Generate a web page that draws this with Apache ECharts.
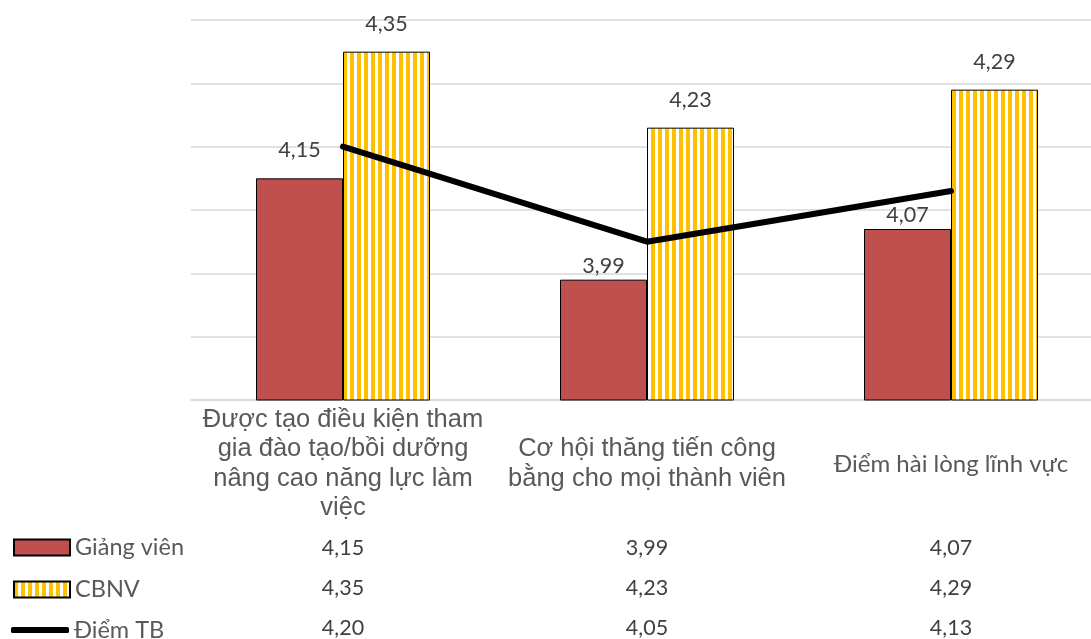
<!DOCTYPE html>
<html>
<head>
<meta charset="utf-8">
<script src="https://cdn.jsdelivr.net/npm/echarts@6/dist/echarts.min.js"></script>
<style>
html,body{margin:0;padding:0;background:#fff;}
#chart{width:1091px;height:639px;}
</style>
</head>
<body>
<div id="chart"></div>
<script>
// ---- data ----
const categories = [
  'Được tạo điều kiện tham\ngia đào tạo/bồi dưỡng\nnâng cao năng lực làm\nviệc',
  'Cơ hội thăng tiến công\nbằng cho mọi thành viên',
  'Điểm hài lòng lĩnh vực'
];
const seriesNames = ['Giảng viên', 'CBNV', 'Điểm TB'];
const giangVien = [4.15, 3.99, 4.07];
const cbnv = [4.35, 4.23, 4.29];
const diemTB = [4.20, 4.05, 4.13];
const yTicks = { min: 3.8, max: 4.4, interval: 0.1 };

// ---- helpers ----
const fmt = v => v.toFixed(2).replace('.', ',');

function stripePattern() {
  const c = document.createElement('canvas');
  c.width = 7; c.height = 10;
  const ctx = c.getContext('2d');
  ctx.fillStyle = '#ffffff';
  ctx.fillRect(0, 0, 7, 10);
  ctx.fillStyle = '#FFC000';
  ctx.fillRect(0, 0, 4, 10);
  return { image: c, repeat: 'repeat' };
}

const numFont = 'Lato, "Open Sans", sans-serif';
const catFont = '"Liberation Sans", Arial, sans-serif';

const tableAxis = (values, offset) => ({
  type: 'category',
  gridIndex: 0,
  position: 'bottom',
  offset: offset,
  data: values.map(fmt),
  axisLine: { show: false },
  axisTick: { show: false },
  splitLine: { show: false },
  axisLabel: {
    interval: 0, margin: 0, verticalAlign: 'middle',
    fontFamily: numFont, fontSize: 21.5, color: '#404040'
  }
});

const legendItem = (name, top, opts) => Object.assign({
  orient: 'horizontal',
  left: 13,
  top: top,
  padding: 0,
  itemWidth: 56,
  itemHeight: 16,
  icon: 'rect',
  data: [name],
  textStyle: { fontFamily: numFont, fontSize: 23.5, color: '#595959', lineHeight: 26 }
}, opts || {});

const barLabel = {
  show: true, position: 'top', distance: 16,
  formatter: p => fmt(p.value),
  fontFamily: numFont, fontSize: 21.5, color: '#404040'
};

const chart = echarts.init(document.getElementById('chart'), null, { renderer: 'canvas' });

const option = {
  animation: false,
  backgroundColor: '#ffffff',
  grid: { left: 191, top: 20, width: 912, height: 380, containLabel: false, outerBoundsMode: 'none' },
  legend: [
    legendItem(seriesNames[0], 534.5),
    legendItem(seriesNames[1], 576.5),
    legendItem(seriesNames[2], 617, { left: 11, itemWidth: 58, itemHeight: 6, icon: 'roundRect' })
  ],
  xAxis: [
    {
      type: 'category',
      data: categories,
      axisLine: { show: true, lineStyle: { color: '#D9D9D9', width: 1.5 } },
      axisTick: { show: false },
      axisLabel: {
        interval: 0,
        margin: 64,
        verticalAlign: 'middle',
        align: 'center',
        fontFamily: catFont,
        fontSize: 25.5,
        lineHeight: 29.5,
        color: '#595959',
        formatter: (v, i) => i === 2 ? '{s|' + v + '}' : v,
        rich: {
          s: { fontFamily: numFont, fontSize: 24, color: '#595959' }
        }
      }
    },
    tableAxis(giangVien, 148),
    tableAxis(cbnv, 188),
    tableAxis(diemTB, 228)
  ],
  yAxis: {
    type: 'value',
    min: yTicks.min,
    max: yTicks.max,
    interval: yTicks.interval,
    axisLabel: { show: false },
    axisLine: { show: false },
    axisTick: { show: false },
    splitLine: { lineStyle: { color: '#D9D9D9', width: 1.5 } }
  },
  series: [
    {
      name: seriesNames[0],
      type: 'bar',
      data: giangVien.map((v, i) => ({ value: v, label: { distance: i === 0 ? 17 : 3 } })),
      barWidth: 87,
      barGap: '0%',
      itemStyle: { color: '#C0504D', borderColor: '#000000', borderWidth: 1 },
      label: barLabel
    },
    {
      name: seriesNames[1],
      type: 'bar',
      data: cbnv,
      barWidth: 87,
      barGap: '0%',
      itemStyle: { color: stripePattern(), borderColor: '#000000', borderWidth: 1 },
      label: Object.assign({}, barLabel, { distance: 17 })
    },
    {
      name: seriesNames[2],
      type: 'line',
      data: diemTB,
      symbol: 'none',
      z: 10,
      itemStyle: { color: '#000000' },
      lineStyle: { color: '#000000', width: 6, cap: 'round', join: 'round' }
    }
  ]
};

chart.setOption(option);
</script>
</body>
</html>
